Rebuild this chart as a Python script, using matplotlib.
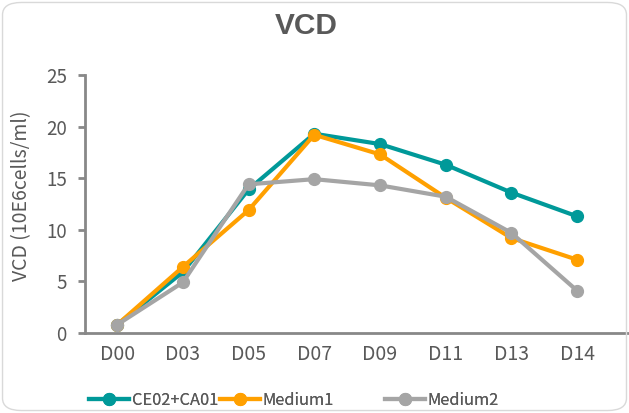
import matplotlib
matplotlib.use("Agg")
import matplotlib.pyplot as plt
from matplotlib.patches import FancyBboxPatch

plt.rcParams['font.family'] = ['Noto Sans CJK SC', 'DejaVu Sans']

days = ["D00", "D03", "D05", "D07", "D09", "D11", "D13", "D14"]
ce02 = [0.8, 5.9, 13.9, 19.3, 18.3, 16.3, 13.6, 11.3]
medium1 = [0.8, 6.4, 11.9, 19.2, 17.3, 13.1, 9.2, 7.1]
medium2 = [0.8, 4.9, 14.4, 14.9, 14.3, 13.2, 9.7, 4.1]
series_names = ["CE02+CA01", "Medium1", "Medium2"]
yticks = [0, 5, 10, 15, 20, 25]

colors = ["#009999", "#FFA000", "#A5A5A5"]
textc = "#595959"
axc = "#888888"

fig = plt.figure(figsize=(6.29, 4.13), dpi=100)
fig.patches.append(FancyBboxPatch((0.004, 0.006), 0.992, 0.988,
                                  boxstyle="round,pad=0,rounding_size=0.03",
                                  transform=fig.transFigure, fill=False,
                                  edgecolor="#D9D9D9", linewidth=1.0))
ax = fig.add_axes([0.135, 0.1937, 0.865, 0.625])

x = list(range(len(days)))
lines = []
for vals, name, c in zip([ce02, medium1, medium2], series_names, colors):
    ln, = ax.plot(x, vals, color=c, lw=3, marker='o', markersize=8.5, label=name,
                  solid_joinstyle='round')
    lines.append(ln)

ax.set_xlim(-0.49, 7.79)
ax.set_ylim(0, 25)
ax.set_yticks(yticks)
ax.set_xticks(x)
ax.set_xticklabels(days)
for s in ["top", "right"]:
    ax.spines[s].set_visible(False)
for s in ["left", "bottom"]:
    ax.spines[s].set_color(axc)
    ax.spines[s].set_linewidth(2)
ax.tick_params(axis='y', colors=axc, length=5, width=2, labelcolor=textc, labelsize=13.5, pad=8)
ax.tick_params(axis='x', length=0, labelcolor=textc, labelsize=14, pad=8)
ax.set_ylabel("VCD (10E6cells/ml)", color=textc, fontsize=14)
ax.yaxis.set_label_coords(-0.097, 0.53)

fig.text(0.487, 0.936, "VCD", ha='center', va='center', fontsize=21.5,
         fontweight='bold', color=textc, family=['Liberation Sans', 'DejaVu Sans'])

legend_x = [0.142, 0.350, 0.612]
for ln, lx in zip(lines, legend_x):
    lg = fig.legend(handles=[ln], loc='center left', bbox_to_anchor=(lx, 0.03),
                    frameon=False, fontsize=11.8, labelcolor=textc,
                    handlelength=2.45, handletextpad=0.15, borderaxespad=0,
                    borderpad=0)
    fig.add_artist(lg)

fig.savefig("out.png", dpi=100)
